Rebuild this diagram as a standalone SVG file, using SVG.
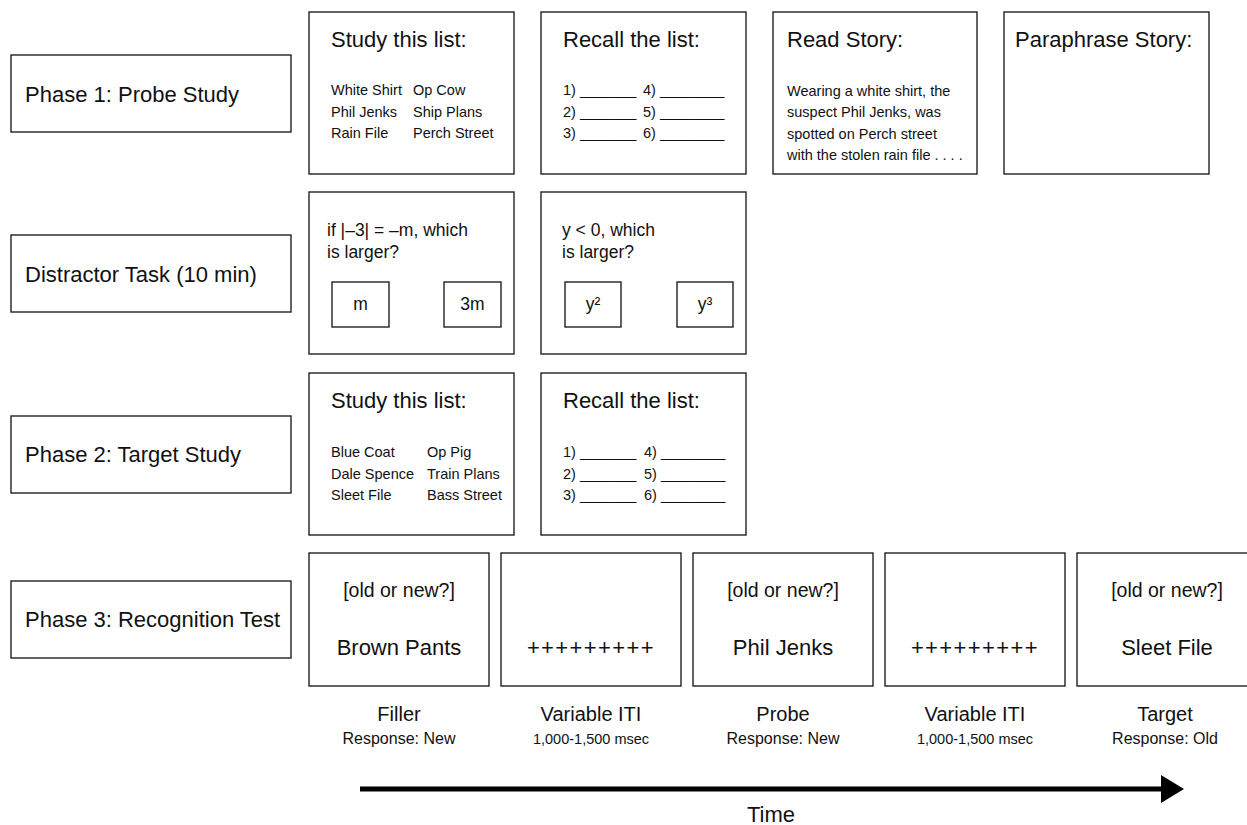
<svg xmlns="http://www.w3.org/2000/svg" width="1247" height="825" viewBox="0 0 1247 825">
<style>
text{font-family:"Liberation Sans",Arial,sans-serif;fill:#111}
.box{fill:#fff;stroke:#222;stroke-width:1.4}
.h{font-size:22px}
.lab{font-size:22px}
.s{font-size:14.5px}
.q{font-size:17.5px}
.r1{font-size:19.5px;text-anchor:middle}
.r2{font-size:22px;text-anchor:middle}
.pl{font-size:22px;text-anchor:middle;letter-spacing:1.4px}
.c1{font-size:20px;text-anchor:middle}
.c2{font-size:16px;text-anchor:middle}
.c3{font-size:14.5px;text-anchor:middle}
</style>
<defs>
<marker id="ah" markerUnits="userSpaceOnUse" markerWidth="24" markerHeight="30" refX="0" refY="14" orient="auto">
<polygon points="0,0 23,14 0,28" fill="#000"/>
</marker>
</defs>
<rect width="1247" height="825" fill="#fff"/>

<g id="phase1-label"><rect class="box" x="11" y="55" width="280" height="77"/><text class="lab" x="25" y="102">Phase 1: Probe Study</text></g>
<g id="distractor-label"><rect class="box" x="11" y="235" width="280" height="77"/><text class="lab" x="25" y="282">Distractor Task (10 min)</text></g>
<g id="phase2-label"><rect class="box" x="11" y="416" width="280" height="77"/><text class="lab" x="25" y="462">Phase 2: Target Study</text></g>
<g id="phase3-label"><rect class="box" x="11" y="581" width="280" height="77"/><text class="lab" x="25" y="627">Phase 3: Recognition Test</text></g>

<g id="p1-study"><rect class="box" x="309" y="12" width="205" height="162"/>
<text class="h" x="331" y="47">Study this list:</text>
<text class="s" x="331" y="95">White Shirt</text><text class="s" x="413" y="95">Op Cow</text>
<text class="s" x="331" y="116.5">Phil Jenks</text><text class="s" x="413" y="116.5">Ship Plans</text>
<text class="s" x="331" y="138">Rain File</text><text class="s" x="413" y="138">Perch Street</text>
</g>
<g id="p1-recall"><rect class="box" x="541" y="12" width="205" height="162"/>
<text class="h" x="563" y="47">Recall the list:</text>
<text class="s" x="563" y="95">1) _______</text><text class="s" x="643" y="95">4) ________</text>
<text class="s" x="563" y="116.5">2) _______</text><text class="s" x="643" y="116.5">5) ________</text>
<text class="s" x="563" y="138">3) _______</text><text class="s" x="643" y="138">6) ________</text>
</g>
<g id="p1-read"><rect class="box" x="773" y="12" width="204" height="162"/>
<text class="h" x="787" y="47">Read Story:</text>
<text class="s" x="787" y="96">Wearing a white shirt, the</text>
<text class="s" x="787" y="117">suspect Phil Jenks, was</text>
<text class="s" x="787" y="138.5">spotted on Perch street</text>
<text class="s" x="787" y="160">with the stolen rain file . . . .</text>
</g>
<g id="p1-paraphrase"><rect class="box" x="1004" y="12" width="205" height="162"/>
<text class="h" x="1015" y="47">Paraphrase Story:</text>
</g>

<g id="d-q1"><rect class="box" x="309" y="192" width="205" height="162"/>
<text class="q" x="327" y="236">if |–3| = –m, which</text>
<text class="q" x="327" y="258">is larger?</text>
<rect class="box" x="332" y="282" width="57" height="45"/><text class="q" x="360.5" y="310" text-anchor="middle">m</text>
<rect class="box" x="444" y="282" width="57" height="45"/><text class="q" x="472.5" y="310" text-anchor="middle">3m</text>
</g>
<g id="d-q2"><rect class="box" x="541" y="192" width="205" height="162"/>
<text class="q" x="562" y="236">y &lt; 0, which</text>
<text class="q" x="562" y="258">is larger?</text>
<rect class="box" x="565" y="282" width="56" height="45"/><text class="q" x="593" y="310" text-anchor="middle">y²</text>
<rect class="box" x="677" y="282" width="56" height="45"/><text class="q" x="705" y="310" text-anchor="middle">y³</text>
</g>

<g id="p2-study"><rect class="box" x="309" y="373" width="205" height="162"/>
<text class="h" x="331" y="408">Study this list:</text>
<text class="s" x="331" y="457">Blue Coat</text><text class="s" x="427" y="457">Op Pig</text>
<text class="s" x="331" y="478.5">Dale Spence</text><text class="s" x="427" y="478.5">Train Plans</text>
<text class="s" x="331" y="500">Sleet File</text><text class="s" x="427" y="500">Bass Street</text>
</g>
<g id="p2-recall"><rect class="box" x="541" y="373" width="205" height="162"/>
<text class="h" x="563" y="408">Recall the list:</text>
<text class="s" x="563" y="457">1) _______</text><text class="s" x="644" y="457">4) ________</text>
<text class="s" x="563" y="478.5">2) _______</text><text class="s" x="644" y="478.5">5) ________</text>
<text class="s" x="563" y="500">3) _______</text><text class="s" x="644" y="500">6) ________</text>
</g>

<g id="r-filler"><rect class="box" x="309" y="553" width="180" height="133"/>
<text class="r1" x="399" y="597">[old or new?]</text><text class="r2" x="399" y="655">Brown Pants</text>
<text class="c1" x="399" y="721">Filler</text><text class="c2" x="399" y="744">Response: New</text>
</g>
<g id="r-iti1"><rect class="box" x="501" y="553" width="180" height="133"/>
<text class="pl" x="591" y="655">+++++++++</text>
<text class="c1" x="591" y="721">Variable ITI</text><text class="c3" x="591" y="744">1,000-1,500 msec</text>
</g>
<g id="r-probe"><rect class="box" x="693" y="553" width="180" height="133"/>
<text class="r1" x="783" y="597">[old or new?]</text><text class="r2" x="783" y="655">Phil Jenks</text>
<text class="c1" x="783" y="721">Probe</text><text class="c2" x="783" y="744">Response: New</text>
</g>
<g id="r-iti2"><rect class="box" x="885" y="553" width="180" height="133"/>
<text class="pl" x="975" y="655">+++++++++</text>
<text class="c1" x="975" y="721">Variable ITI</text><text class="c3" x="975" y="744">1,000-1,500 msec</text>
</g>
<g id="r-target"><rect class="box" x="1077" y="553" width="180" height="133"/>
<text class="r1" x="1167" y="597">[old or new?]</text><text class="r2" x="1167" y="655">Sleet File</text>
<text class="c1" x="1165" y="721">Target</text><text class="c2" x="1165" y="744">Response: Old</text>
</g>

<g id="connectors">
<line x1="360" y1="789" x2="1161" y2="789" stroke="#000" stroke-width="5" marker-end="url(#ah)"/>
</g>
<g id="time-label"><text class="r2" x="771" y="822">Time</text></g>
</svg>
